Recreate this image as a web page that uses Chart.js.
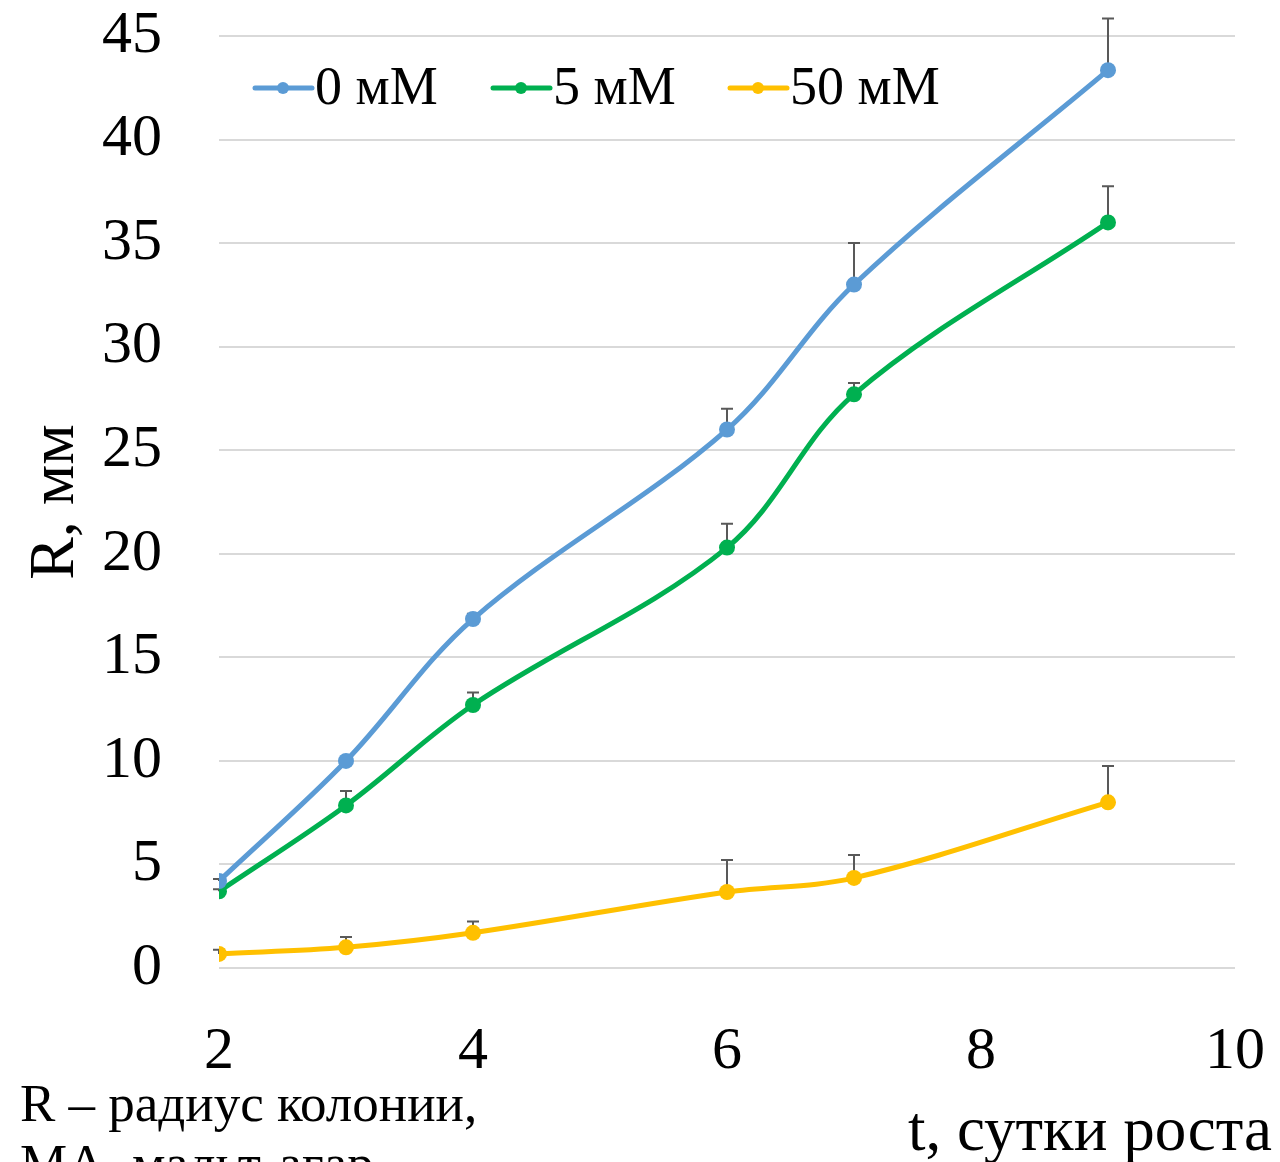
<!DOCTYPE html>
<html>
<head>
<meta charset="utf-8">
<script src="https://cdn.jsdelivr.net/npm/chart.js@4"></script>
<style>
  html,body{margin:0;padding:0;background:#fff;overflow:hidden;}
  #wrap{position:relative;width:1280px;height:1162px;overflow:hidden;}
  .note{position:absolute;font-family:"Liberation Serif",serif;color:#000;white-space:nowrap;}
</style>
</head>
<body>
<div id="wrap">
  <canvas id="chart" width="1280" height="1162"></canvas>
  <div class="note" style="left:20px;top:1073px;font-size:53px;line-height:60px;">R – радиус колонии,<br>МА–мальт-агар</div>
  <div class="note" style="right:8px;top:1093px;font-size:63px;">t, сутки роста</div>
</div>
<script>
const days=[2,3,4,6,7,9];
const labels=['0 мМ','5 мМ','50 мМ'];
const r0=[4.2,10.0,16.85,26.0,33.0,43.35];
const err0=[0.1,0.15,0.25,1.0,2.0,2.5];
const r5=[3.7,7.85,12.7,20.3,27.7,36.0];
const err5=[0.1,0.7,0.6,1.15,0.55,1.75];
const r50=[0.68,1.0,1.7,3.67,4.35,8.0];
const err50=[0.2,0.5,0.55,1.55,1.1,1.75];
const colors=['#5B9BD5','#00B050','#FFC000'];
const yTicks=[0,5,10,15,20,25,30,35,40,45];
const xTicks=[2,4,6,8,10];

function pts(vals){return days.map((d,i)=>({x:d,y:vals[i]}));}

// upward error bars
const errPlugin={
  id:'errbars',
  beforeDatasetsDraw(chart){
    const ctx=chart.ctx, xs=chart.scales.x, ys=chart.scales.y;
    const errs=[err0,err5,err50], vals=[r0,r5,r50];
    ctx.save();
    ctx.strokeStyle='#595959';
    ctx.lineWidth=2;
    errs.forEach((e,k)=>{
      days.forEach((d,i)=>{
        const px=xs.getPixelForValue(d);
        const y1=ys.getPixelForValue(vals[k][i]);
        const y2=ys.getPixelForValue(vals[k][i]+e[i]);
        ctx.beginPath();
        ctx.moveTo(px,y1);ctx.lineTo(px,y2);
        ctx.moveTo(px-6,y2);ctx.lineTo(px+6,y2);
        ctx.stroke();
      });
    });
    ctx.restore();
  }
};

// legend inside the plot: line + dot + text
const legendPlugin={
  id:'inlegend',
  afterDraw(chart){
    const ctx=chart.ctx;
    const starts=[255,493,730], y=88;
    ctx.save();
    ctx.font='54px "Liberation Serif"';
    ctx.textBaseline='middle';
    chart.data.datasets.forEach((ds,i)=>{
      const x=starts[i];
      ctx.strokeStyle=ds.borderColor;
      ctx.lineWidth=5;
      ctx.lineCap='round';
      ctx.beginPath();ctx.moveTo(x,y);ctx.lineTo(x+57,y);ctx.stroke();
      ctx.fillStyle=ds.borderColor;
      ctx.beginPath();ctx.arc(x+28,y,6,0,Math.PI*2);ctx.fill();
      ctx.fillStyle='#000';
      ctx.fillText(ds.label,x+60,y+2);
    });
    ctx.restore();
  }
};

new Chart(document.getElementById('chart'),{
  type:'line',
  data:{
    datasets:[
      {label:labels[0],data:pts(r0),borderColor:colors[0],backgroundColor:colors[0]},
      {label:labels[1],data:pts(r5),borderColor:colors[1],backgroundColor:colors[1]},
      {label:labels[2],data:pts(r50),borderColor:colors[2],backgroundColor:colors[2]}
    ]
  },
  options:{
    responsive:false,
    animation:false,
    layout:{padding:{top:36,right:45,left:0,bottom:0}},
    elements:{
      line:{borderWidth:5,tension:0.35,fill:false},
      point:{radius:8,borderWidth:0,hoverRadius:8}
    },
    plugins:{legend:{display:false},tooltip:{enabled:false}},
    scales:{
      x:{
        type:'linear',min:2,max:10,
        afterBuildTicks(s){s.ticks=xTicks.map(v=>({value:v}));},
        afterFit(s){s.height=194;s.paddingLeft=0;s.paddingRight=0;},
        grid:{display:false},
        border:{display:false},
        ticks:{color:'#000',padding:40,maxRotation:0,font:{family:'Liberation Serif',size:60}}
      },
      y:{
        min:0,max:45,
        afterBuildTicks(s){s.ticks=yTicks.map(v=>({value:v}));},
        afterFit(s){s.width=219;s.paddingTop=0;s.paddingBottom=0;},
        grid:{color:'#d9d9d9',lineWidth:2,drawTicks:false},
        border:{display:false},
        ticks:{color:'#000',padding:57,font:{family:'Liberation Serif',size:60}},
        title:{display:true,text:'R, мм',color:'#000',padding:{top:18,bottom:0},font:{family:'Liberation Serif',size:64}}
      }
    }
  },
  plugins:[errPlugin,legendPlugin]
});
</script>
</body>
</html>
